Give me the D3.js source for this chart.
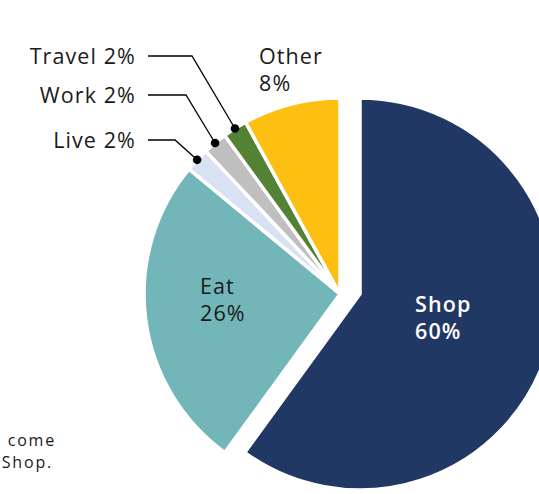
<!DOCTYPE html>
<html>
<head>
<meta charset="utf-8">
<script src="https://cdn.jsdelivr.net/npm/d3@7"></script>
<style>
  html, body { margin: 0; padding: 0; background: #fff; }
  svg { display: block; }
  text { font-family: "Open Sans", "DejaVu Sans", sans-serif; fill: #1a1a1a; }
</style>
</head>
<body>
<svg id="chart" width="539" height="494"></svg>
<script>
// Share of activity by purpose (percent)
const categories = ["Shop", "Eat", "Live", "Work", "Travel", "Other"];
const values = [60, 26, 2, 2, 2, 8];
const colors = ["#213864", "#73b6b9", "#d9e2f3", "#bfbfbf", "#548235", "#fcbf12"];
// Slices labelled outside with leader lines
const outsideLabels = ["Live", "Work", "Travel"];

// Layout
const W = 539, H = 494;
const cx = 340, cy = 294, R = 196;
const explodeX = 20;            // Shop slice pulled out to the right
const leaderTextX = 136;        // right edge of leader label text
const leaderStartX = 148;       // start of horizontal leader segment
const leaderRows = {            // label row y and elbow x for each leader
  Live:   { y: 140, elbowX: 175 },
  Work:   { y: 95,  elbowX: 186 },
  Travel: { y: 56,  elbowX: 192 }
};

const svg = d3.select("#chart");
const data = categories.map((c, i) => ({ name: c, value: values[i], color: colors[i] }));

const pie = d3.pie().sort(null).value(d => d.value).startAngle(0).endAngle(2 * Math.PI);
const arcs = pie(data);
const arc = d3.arc().innerRadius(0).outerRadius(R);

const g = svg.append("g").attr("transform", `translate(${cx},${cy})`);

g.selectAll("path.slice")
  .data(arcs)
  .join("path")
  .attr("class", "slice")
  .attr("transform", d => d.data.name === "Shop" ? `translate(${explodeX},0)` : null)
  .attr("d", arc)
  .attr("fill", d => d.data.color)
  .attr("stroke", "#fff")
  .attr("stroke-width", 3.5)
  .attr("stroke-linejoin", "miter");

// Leader lines with dots for the small slices
const fontSize = 21.5;
const spacing = 1.1;
arcs.filter(d => outsideLabels.includes(d.data.name)).forEach(d => {
  const mid = (d.startAngle + d.endAngle) / 2;
  const px = cx + R * Math.sin(mid);
  const py = cy - R * Math.cos(mid);
  const row = leaderRows[d.data.name];
  svg.append("polyline")
    .attr("points", `${leaderStartX},${row.y} ${row.elbowX},${row.y} ${px},${py}`)
    .attr("fill", "none")
    .attr("stroke", "#000")
    .attr("stroke-width", 1.3);
  svg.append("circle")
    .attr("cx", px).attr("cy", py).attr("r", 4.3)
    .attr("fill", "#000");
  svg.append("text")
    .attr("x", leaderTextX).attr("y", row.y + 7.5)
    .attr("text-anchor", "end")
    .attr("font-size", fontSize)
    .attr("letter-spacing", spacing)
    .text(`${d.data.name} ${d.data.value}%`);
});

// Two-line labels for the large slices
function twoLine(x, y, lines, opts) {
  const t = svg.append("text")
    .attr("x", x).attr("y", y)
    .attr("font-size", fontSize)
    .attr("letter-spacing", spacing)
    .style("fill", opts.fill)
    .attr("font-weight", opts.weight || 400);
  lines.forEach((s, i) => t.append("tspan").attr("x", x).attr("dy", i === 0 ? 0 : 27).text(s));
}
const byName = Object.fromEntries(data.map(d => [d.name, d]));
twoLine(259, 64, ["Other", `${byName.Other.value}%`], { fill: "#1a1a1a" });
twoLine(200, 294, ["Eat", `${byName.Eat.value}%`], { fill: "#1a1a1a" });
twoLine(415, 312, ["Shop", `${byName.Shop.value}%`], { fill: "#ffffff", weight: 600 });

// Note text running in from the left edge, one text element per line
const noteLines = [
  { text: "come", x: 56, y: 446 },
  { text: "Shop.", x: 53, y: 468 }
];
svg.selectAll("text.note")
  .data(noteLines)
  .join("text")
  .attr("class", "note")
  .attr("x", d => d.x).attr("y", d => d.y)
  .attr("font-size", 16)
  .attr("letter-spacing", 1.8)
  .attr("text-anchor", "end")
  .text(d => d.text);
</script>
</body>
</html>
